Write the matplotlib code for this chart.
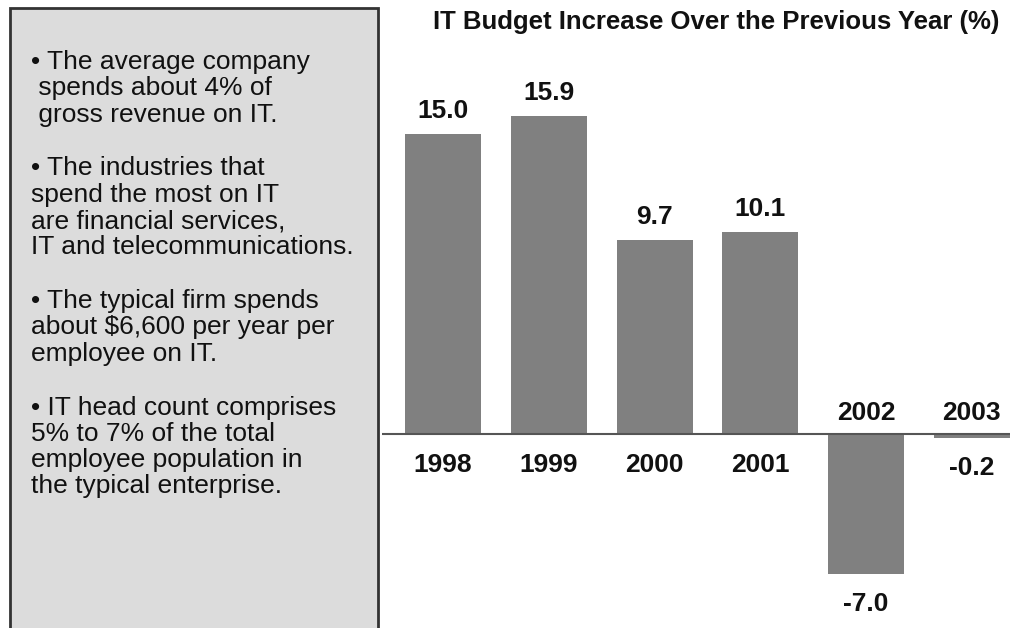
import matplotlib.pyplot as plt
from matplotlib.patches import Rectangle

years = ['1998', '1999', '2000', '2001', '2002', '2003']
increase = [15.0, 15.9, 9.7, 10.1, -7.0, -0.2]

notes = [
    ['• The average company', ' spends about 4% of', ' gross revenue on IT.'],
    ['• The industries that', 'spend the most on IT', 'are financial services,',
     'IT and telecommunications.'],
    ['• The typical firm spends', 'about $6,600 per year per', 'employee on IT.'],
    ['• IT head count comprises', '5% to 7% of the total',
     'employee population in', 'the typical enterprise.'],
]

W, H = 1013, 628
plt.rcParams['font.family'] = ['Liberation Sans', 'DejaVu Sans']
fig = plt.figure(figsize=(W / 100, H / 100), dpi=100)
fig.patch.set_facecolor('white')

# grey notes panel on the left, running off the bottom edge
panel = Rectangle((10 / W, -0.05), 368 / W, 1.05 - 8 / H, transform=fig.transFigure,
                  facecolor='#dcdcdc', edgecolor='#333333', linewidth=2)
fig.patches.append(panel)

y = 62
for para in notes:
    for line in para:
        fig.text(31 / W, 1 - y / H, line, fontsize=19, va='center', ha='left',
                 color='#111111')
        y += 26.3
    y += 27.5

# bar chart on the right
ax = fig.add_axes([382 / W, 0, (1010 - 382) / W, 1])
ax.set_xlim(-0.577, 5.36)
ax.set_ylim(-9.7, 21.7)
ax.axis('off')

x = list(range(len(years)))
ax.bar(x, increase, width=0.72, color='#808080', zorder=2)
ax.axhline(0, color='#555555', linewidth=1.5, zorder=3)

lbl = dict(ha='center', va='center', fontsize=19, fontweight='bold', color='#111111')
for i, (yr, v) in enumerate(zip(years, increase)):
    if v >= 0:
        ax.text(i, v + 1.15, f'{v:.1f}', **lbl)
        ax.text(i, -1.55, yr, **lbl)
    else:
        ax.text(i, v - 1.5, f'{v:.1f}', **lbl)
        ax.text(i, 1.05, yr, **lbl)

fig.text(716 / W, 1 - 22 / H, 'IT Budget Increase Over the Previous Year (%)',
         ha='center', va='center', fontsize=18.5, fontweight='bold', color='#111111')

fig.savefig('out.png', dpi=100)
